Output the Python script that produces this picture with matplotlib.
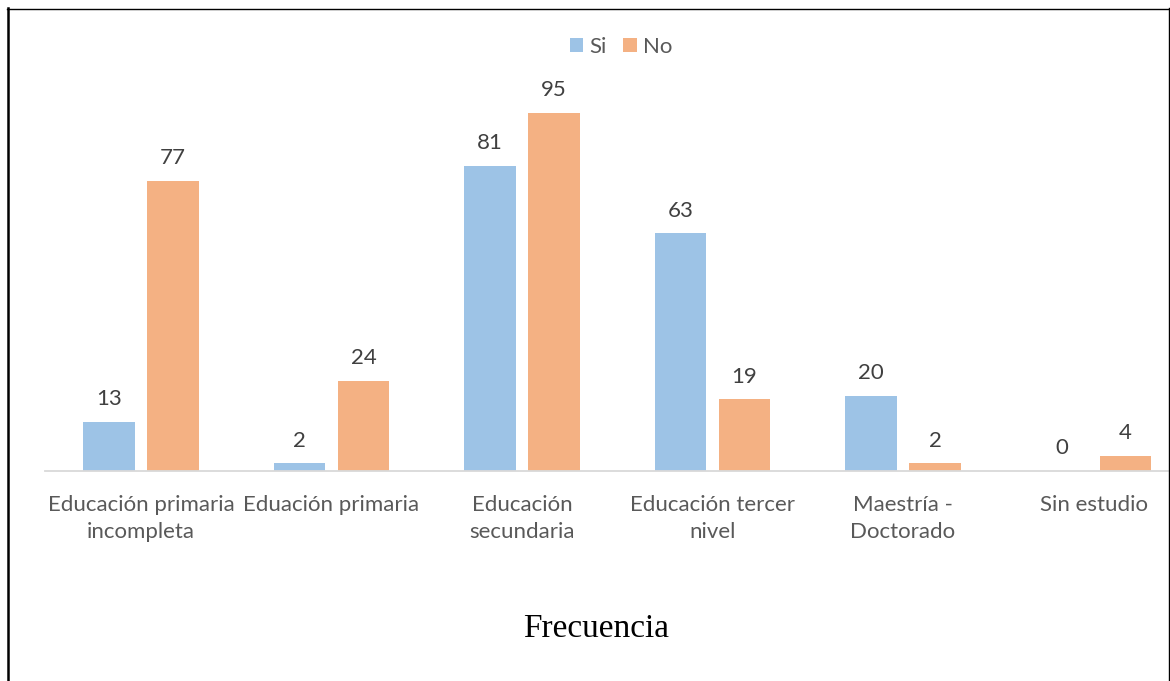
import numpy as np
import matplotlib.pyplot as plt
from matplotlib.lines import Line2D

# data
categories = ['Educación primaria\nincompleta', 'Eduación primaria', 'Educación\nsecundaria',
              'Educación tercer\nnivel', 'Maestría -\nDoctorado', 'Sin estudio']
si_values = [13, 2, 81, 63, 20, 0]
no_values = [77, 24, 95, 19, 2, 4]

W, H = 1170, 681
fig = plt.figure(figsize=(W / 100, H / 100), dpi=100)
fig.patch.set_facecolor('white')

# axes placed in pixel terms
left, right, bottom, top = 45, 1168, 471, 94
ax = fig.add_axes([left / W, (H - bottom) / H, (right - left) / W, (bottom - top) / H])

x = np.arange(len(categories))
bw = 0.268
off = 0.168
si_color = '#9DC3E6'
no_color = '#F4B183'

b1 = ax.bar(x - off, si_values, bw, color=si_color, label='Si')
b2 = ax.bar(x + off, no_values, bw, color=no_color, label='No')

for bars, vals in [(b1, si_values), (b2, no_values)]:
    for rect, v in zip(bars, vals):
        ax.annotate(str(v), (rect.get_x() + rect.get_width() / 2, v),
                    xytext=(0, 9), textcoords='offset points',
                    ha='center', va='bottom', fontsize=16, color='#404040',
                    family='Lato')

ax.set_xlim((left - 141) / 190.5, (right - 141) / 190.5)
ax.set_ylim(0, 100)
ax.set_xticks(x)
ax.set_xticklabels(categories, fontsize=16, color='#595959', family='Lato', linespacing=1.45)
ax.tick_params(axis='x', length=0, pad=17)
ax.set_yticks([])
for s in ['left', 'right', 'top']:
    ax.spines[s].set_visible(False)
ax.spines['bottom'].set_color('#D9D9D9')
ax.spines['bottom'].set_linewidth(1.3)

leg = fig.legend(handles=[b1, b2], labels=['Si', 'No'], loc='center',
                 bbox_to_anchor=(621 / W, (H - 47) / H), ncol=2, frameon=False,
                 prop={'family': 'Lato', 'size': 16}, handlelength=0.6, handleheight=0.6,
                 handletextpad=0.28, columnspacing=0.75)
for t in leg.get_texts():
    t.set_color('#595959')

fig.text(596 / W, (H - 629) / H, 'Frecuencia', ha='center', va='center',
         fontsize=24, family='Liberation Serif', color='black')

# page border around the chart
fig.add_artist(Line2D([8 / W, 8 / W], [0, (H - 8) / H], color='black', lw=1.8))
fig.add_artist(Line2D([7 / W, 1169 / W], [(H - 8.5) / H, (H - 8.5) / H], color='black', lw=1.0))
fig.add_artist(Line2D([1168.5 / W, 1168.5 / W], [0, (H - 8) / H], color='black', lw=1.0))

fig.savefig('out.png', dpi=100)
